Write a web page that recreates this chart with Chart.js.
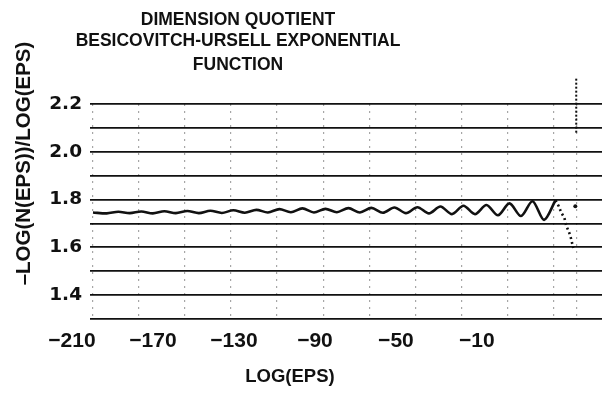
<!DOCTYPE html>
<html>
<head>
<meta charset="utf-8">
<script src="https://cdn.jsdelivr.net/npm/chart.js@4"></script>
<style>
  body { margin: 0; background: #fff; }
  canvas { display: block; }
</style>
</head>
<body>
<canvas id="myChart" width="606" height="395"></canvas>
<script>
// Tick labels shown under the plot and on the left
const xTickValues = [-210, -170, -130, -90, -50, -10];
const yTickLabels = [2.2, 2.0, 1.8, 1.6, 1.4];
// Horizontal rules every 0.1, dotted vertical guides every 20
const yGridValues = [1.3, 1.4, 1.5, 1.6, 1.7, 1.8, 1.9, 2.0, 2.1, 2.2];
const xGridValues = [-210, -190, -170, -150, -130, -110, -90, -70, -50, -30, -10, 0];

// Dimension quotient curve
const curveX = [-210, -204, -199, -194, -189, -184, -179, -174, -169, -164, -159, -154, -149, -144,
  -139, -134, -129, -124, -119, -114, -109, -104, -99, -94, -89, -84, -79, -74, -69, -64,
  -59, -54, -49, -44, -39, -34, -29, -24, -19, -14, -9];
const curveY = [1.746, 1.742, 1.749, 1.743, 1.750, 1.742, 1.751, 1.743, 1.752, 1.743, 1.753, 1.744, 1.755, 1.745,
  1.757, 1.746, 1.760, 1.747, 1.763, 1.746, 1.761, 1.747, 1.764, 1.746, 1.765, 1.745, 1.767, 1.743, 1.768, 1.742,
  1.771, 1.739, 1.774, 1.739, 1.777, 1.734, 1.784, 1.731, 1.793, 1.715, 1.797];

// Scattered tail where the curve breaks up
const tailX = [-9, -7.6, -6.5, -5.2, -4.3, -3.0, -2.2, -1.3];
const tailY = [1.797, 1.772, 1.745, 1.725, 1.690, 1.660, 1.635, 1.597];
const strayX = [-0.4];
const strayY = [1.772];
// Spike above the top line at log(eps) = 0
const spikeX = [0, 0];
const spikeY = [2.08, 2.31];

const toPoints = (xs, ys) => xs.map((x, i) => ({ x: x, y: ys[i] }));

// Titles sit left of the plot centre in the original, so they are drawn here
const textPlugin = {
  id: 'refText',
  afterDraw(chart) {
    const ctx = chart.ctx;
    ctx.save();
    ctx.fillStyle = '#111';
    ctx.textAlign = 'center';
    ctx.textBaseline = 'alphabetic';
    ctx.font = 'bold 17.5px "Liberation Sans", Arial, sans-serif';
    ctx.fillText('DIMENSION QUOTIENT', 238, 25);
    ctx.fillText('BESICOVITCH-URSELL EXPONENTIAL', 238, 45.5);
    ctx.fillText('FUNCTION', 238, 70);

    ctx.font = 'bold 18.5px "Liberation Sans", Arial, sans-serif';
    ctx.fillText('LOG(EPS)', 290, 382);

    ctx.translate(30, 163.5);
    ctx.rotate(-Math.PI / 2);
    ctx.font = 'bold 20.5px "Liberation Sans", Arial, sans-serif';
    ctx.fillText('\u2013LOG(N(EPS))/LOG(EPS)', 0, 0);
    ctx.restore();
  }
};

const ctx = document.getElementById('myChart').getContext('2d');
const myChart = new Chart(ctx, {
  type: 'line',
  data: {
    datasets: [
      {
        data: toPoints(curveX, curveY),
        xAxisID: 'xd',
        borderColor: '#111',
        borderWidth: 2.6,
        tension: 0.3,
        pointRadius: 0
      },
      {
        data: toPoints(tailX, tailY),
        xAxisID: 'xd',
        borderColor: '#111',
        borderWidth: 2.6,
        borderDash: [2, 3],
        pointRadius: 0
      },
      {
        data: toPoints(strayX, strayY),
        xAxisID: 'xd',
        showLine: false,
        pointRadius: 2,
        pointBackgroundColor: '#111',
        pointBorderWidth: 0
      },
      {
        data: toPoints(spikeX, spikeY),
        xAxisID: 'xd',
        borderColor: '#111',
        borderWidth: 2,
        borderDash: [2, 2],
        pointRadius: 0,
        clip: false
      }
    ]
  },
  options: {
    responsive: false,
    animation: false,
    devicePixelRatio: 1,
    layout: {
      padding: { top: 104, right: 0, bottom: 0, left: 0 }
    },
    scales: {
      y: {
        min: 1.3,
        max: 2.2,
        border: { display: false },
        grid: {
          color: '#111',
          lineWidth: 1.8,
          drawTicks: false
        },
        ticks: {
          padding: 8,
          autoSkip: false,
          color: '#111',
          font: { family: '"DejaVu Sans", sans-serif', size: 18.5, weight: 'bold' },
          callback: function(value) {
            const hit = yTickLabels.find(v => Math.abs(v - value) < 1e-6);
            return hit === undefined ? '' : hit.toFixed(1);
          }
        },
        afterBuildTicks: function(scale) {
          scale.ticks = yGridValues.map(v => ({ value: v }));
        },
        afterFit: function(scale) { scale.width = 90; }
      },
      xd: {
        type: 'linear',
        position: 'bottom',
        min: -211.3,
        max: 11.2,
        border: { display: false, dash: [2, 5] },
        grid: {
          color: 'rgba(0,0,0,0.35)',
          lineWidth: 1.2,
          drawTicks: false
        },
        ticks: { display: false },
        afterBuildTicks: function(scale) {
          scale.ticks = xGridValues.map(v => ({ value: v }));
        },
        afterFit: function(scale) { scale.height = 0; }
      },
      x: {
        type: 'linear',
        position: 'bottom',
        min: -210,
        max: 42.9,
        border: { display: false },
        grid: { display: false },
        ticks: {
          padding: 2,
          labelOffset: -18,
          maxRotation: 0,
          autoSkip: false,
          color: '#111',
          font: { family: '"Liberation Sans", Arial, sans-serif', size: 21, weight: 'bold' },
          callback: function(value) {
            return '\u2212' + Math.abs(value);
          }
        },
        afterBuildTicks: function(scale) {
          scale.ticks = xTickValues.map(v => ({ value: v }));
        },
        afterFit: function(scale) { scale.height = 76; }
      }
    },
    plugins: {
      legend: { display: false },
      title: { display: false },
      tooltip: { enabled: false }
    }
  },
  plugins: [textPlugin]
});
</script>
</body>
</html>
